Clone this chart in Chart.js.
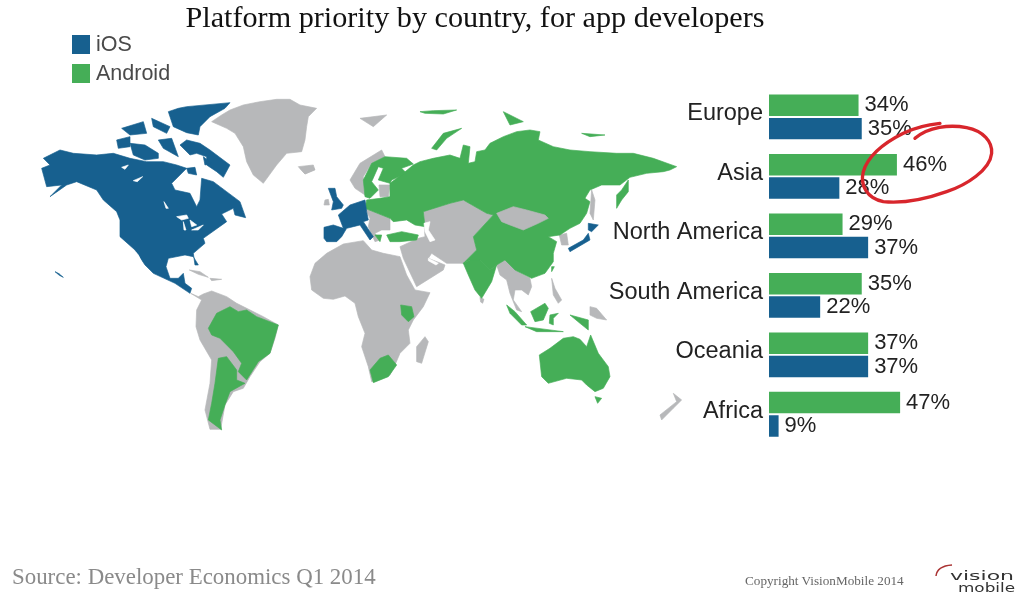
<!DOCTYPE html>
<html lang="en">
<head>
    <meta charset="UTF-8">
    <title>Platform priority by country, for app developers</title>
    <script src="https://cdn.jsdelivr.net/npm/chart.js"></script>
    <style>
        html, body { margin: 0; padding: 0; background: #fff; overflow: hidden; }
        #stage { position: relative; width: 1027px; height: 603px; }
        #stage > * { position: absolute; left: 0; top: 0; }
        #legend { left: 72px; top: 30px; font: 21.5px "Liberation Sans", Arial, sans-serif; color: #4a4a4a; }
        .legend-row { display: flex; align-items: center; height: 29px; }
        .legend-box { width: 18px; height: 19px; margin-right: 6px; }
        .source { left: 12px !important; top: 564px !important; font: 22.9px "Liberation Serif", serif; color: #8a8a8a; white-space: nowrap; }
        .copyright { left: 745px !important; top: 573px !important; font: 13.2px "Liberation Serif", serif; color: #666; white-space: nowrap; }
    </style>
</head>
<body>
<div id="stage">
    <!-- world map, traced by hand -->
    <svg width="1027" height="603" id="map">
        <g transform="translate(30 90) scale(0.3333)" stroke-linejoin="round" stroke-width="2">
            <g fill="#b7b8ba" stroke="#b7b8ba">
                <polygon points="545,95 575,75 600,60 640,45 690,35 740,28 780,28 810,45 860,55 835,80 830,110 825,150 815,185 770,190 740,225 700,280 670,255 650,215 640,170 615,130 590,115"/>
                <polygon points="805,230 850,225 855,240 825,252"/>
                <polygon points="478,540 510,545 535,562 505,553"/>
                <polygon points="540,565 575,568 545,572"/>
                <polygon points="482,610 505,620 520,612 545,603 590,620 620,640 650,655 700,680 745,705 735,745 720,790 690,815 660,860 640,895 610,905 585,945 572,1018 540,1018 525,960 540,880 545,810 510,750 498,710 500,660 515,630"/>
            </g>
            <g fill="#17608f" stroke="#17608f">
                <polygon points="40,205 90,180 130,190 200,195 250,190 300,205 350,215 400,215 440,225 470,235 450,255 425,280 435,300 480,310 500,350 510,330 515,265 550,275 590,305 630,335 647,383 615,375 610,355 575,372 590,395 520,445 525,460 490,490 495,525 505,525 490,500 465,495 415,505 408,530 420,565 445,565 460,550 465,580 485,595 480,610 435,580 370,550 345,525 315,480 270,440 270,390 260,365 220,330 200,300 140,275 110,285 60,320 95,285 50,290 35,235 60,225"/>
                <polygon points="415,65 445,55 470,50 600,38 585,55 540,80 510,110 505,135 470,128 430,110"/>
                <polygon points="450,165 470,150 510,160 540,180 600,225 580,262 560,245 530,225 530,200 500,190 480,195"/>
                <polygon points="300,160 345,165 385,190 385,205 345,210 310,195"/>
                <polygon points="260,150 300,140 300,170 265,175"/>
                <polygon points="275,115 340,95 350,130 300,135"/>
                <polygon points="365,85 420,110 410,130 370,110"/>
                <polygon points="385,150 425,145 445,200 400,175"/>
                <polygon points="470,235 495,232 500,255 475,250"/>
                <polygon points="520,200 545,220 525,225"/>
                <polygon points="75,545 85,550 100,562 88,556"/>
            </g>
            <g fill="#fff" stroke="#fff">
                <polygon points="316,485 325,495 345,538 338,533"/>
                <polygon points="275,232 295,225 285,238"/>
                <polygon points="310,272 338,260 322,275"/>
                <polygon points="402,335 415,355 408,355"/>
                <polygon points="440,380 470,375 475,385 455,390"/>
                <polygon points="460,395 468,420 462,420"/>
                <polygon points="480,390 500,405 485,410"/>
                <polygon points="485,420 520,405 505,420"/>
            </g>
            <g fill="#45ae57" stroke="#45ae57">
                <polygon points="535,715 560,670 600,650 625,665 650,660 680,680 745,705 735,740 720,790 685,815 650,870 625,845 635,820 610,785 570,745 545,735"/>
                <polygon points="565,805 590,800 620,840 620,870 645,880 600,905 585,945 570,990 575,1020 535,990 545,940 555,880"/>
            </g>
        </g>
        <g transform="translate(300 90) scale(0.3333)" stroke-linejoin="round" stroke-width="2">
            <g fill="#b7b8ba" stroke="#b7b8ba">
                <polygon points="30,560 45,520 80,490 130,462 190,452 215,480 250,490 300,500 320,555 345,600 390,608 370,650 340,690 325,720 330,760 300,790 285,825 270,855 215,875 205,830 185,770 195,730 175,680 165,640 135,618 100,628 70,625 35,600"/>
                <polygon points="375,740 385,755 365,820 350,815 350,770"/>
                <polygon points="355,445 300,470 310,505 350,590 430,540 435,525 385,505 395,490 440,520 490,520 530,480 520,440 580,375 560,370 490,330 450,340 370,365 375,440"/>
                <polygon points="590,525 615,510 645,540 690,565 695,590 685,615 665,600 645,600 640,630 665,665 650,660 630,610 620,570 600,555"/>
                <polygon points="195,355 270,385 270,420 245,420 225,430 240,450 225,455 205,410 210,385"/>
                <polygon points="150,270 180,220 245,180 255,200 215,220 190,260 195,315 165,295"/>
                <polygon points="237,285 270,285 265,320 240,320"/>
                <polygon points="180,85 260,75 220,110"/>
                <polygon points="75,330 85,328 88,345 72,345"/>
                <polygon points="0,235 30,228 45,238 15,252"/>
                <polygon points="875,300 885,330 880,390 870,370"/>
                <polygon points="778,435 800,430 805,465 785,465"/>
                <polygon points="755,565 765,595 785,630 775,640 760,615"/>
                <polygon points="870,650 890,655 920,690 890,685 870,675"/>
                <polygon points="1120,910 1145,930 1120,955 1085,990 1080,975 1130,935"/>
                <polygon points="540,622 552,628 548,640 542,636"/>
            </g>
            <g fill="#45ae57" stroke="#45ae57">
                <polygon points="200,330 240,325 270,320 270,280 310,250 340,225 360,215 400,205 450,195 480,205 490,165 510,170 505,220 525,215 530,185 555,180 570,160 610,140 650,125 690,120 720,125 715,150 760,170 810,180 870,185 950,190 1000,190 1060,205 1130,230 1110,240 1090,245 1040,250 990,262 960,285 905,285 870,300 855,325 870,335 860,370 840,400 810,415 780,435 745,440 770,455 760,490 760,515 735,550 695,565 645,540 615,510 590,525 570,540 540,510 510,510 490,520 530,480 520,440 580,375 560,370 490,330 450,340 370,365 375,410 345,405 320,390 280,395 270,385 195,355"/>
                <polygon points="490,520 510,510 540,510 570,540 590,525 575,575 545,625 525,600 505,555"/>
                <polygon points="195,320 190,270 215,220 255,200 320,205 340,222 305,235 320,250 275,270 270,280 235,270 250,235 235,230 215,275 235,300 210,325"/>
                <polygon points="260,435 305,425 355,435 350,450 300,455 270,455"/>
                <polygon points="225,435 245,435 240,455"/>
                <polygon points="302,645 335,650 342,680 325,695 305,675"/>
                <polygon points="210,840 240,805 265,795 290,825 265,860 220,878"/>
                <polygon points="395,175 430,130 485,115 440,145 410,180"/>
                <polygon points="360,65 400,62 470,60 430,72 375,70"/>
                <polygon points="610,65 670,95 630,105"/>
                <polygon points="845,130 915,135 870,140"/>
                <polygon points="950,315 965,300 985,270 985,305 965,330 950,355"/>
                <polygon points="755,530 763,530 755,545"/>
                <polygon points="620,645 645,665 680,705 665,705 630,670"/>
                <polygon points="675,710 790,725 710,725"/>
                <polygon points="692,665 735,640 745,655 730,690 705,695"/>
                <polygon points="750,675 775,670 760,685 760,705 748,700"/>
                <polygon points="810,675 865,690 865,720 840,700"/>
                <polygon points="718,795 750,775 790,745 820,740 840,748 860,770 872,735 895,790 925,830 930,860 910,895 885,905 860,885 845,870 800,865 745,880 725,860"/>
                <polygon points="885,920 905,925 893,940"/>
            </g>
            <g fill="#b7b8ba" stroke="#b7b8ba">
                <polygon points="590,370 640,350 680,360 735,375 745,385 715,400 670,420 630,405 605,395"/>
            </g>
            <g fill="#fff" stroke="#fff">
                <polygon points="372,400 390,395 385,420 405,450 390,455 375,425"/>
                <polygon points="385,505 415,520 408,525 385,512"/>
            </g>
            <g fill="#17608f" stroke="#17608f">
                <polygon points="85,295 105,295 110,320 130,345 125,355 95,360 100,335"/>
                <polygon points="72,412 100,405 130,415 115,375 150,345 195,330 200,365 205,390 190,395 220,440 210,450 180,405 160,410 140,415 125,440 110,455 80,455 72,445"/>
                <polygon points="865,400 895,405 875,425 865,420"/>
                <polygon points="865,430 870,450 810,485 805,475 850,450"/>
            </g>
        </g>
    </svg>
    <canvas id="chart" width="1027" height="603"></canvas>
    <!-- red pen circle over the Asia row -->
    <svg width="1027" height="603" id="pen" style="pointer-events:none">
        <path transform="translate(600 85) scale(0.3333)" fill="none" stroke="#d8262c" stroke-width="10" stroke-linecap="round"
              d="M945 160 C985 125 1050 118 1100 128 C1150 138 1178 170 1175 205 C1170 255 1100 300 1040 320 C970 345 900 355 850 350 C800 340 780 300 790 260 C805 210 860 170 910 145 C950 125 990 118 1020 115"/>
        <path d="M936 576 Q937 566 952 565" fill="none" stroke="#a33" stroke-width="1.5"/>
        <text x="950" y="580" font-family="DejaVu Sans" font-size="13" fill="#333" textLength="64" lengthAdjust="spacingAndGlyphs">vision</text>
        <text x="958" y="592" font-family="DejaVu Sans" font-size="13" fill="#333" textLength="57" lengthAdjust="spacingAndGlyphs">mobile</text>
    </svg>
    <div id="legend"></div>
    <div class="source">Source: Developer Economics Q1 2014</div>
    <div class="copyright">Copyright VisionMobile 2014</div>
</div>

<script>
    const categories = ["Europe", "Asia", "North America", "South America", "Oceania", "Africa"];
    const androidValues = [34, 46, 29, 35, 37, 47];
    const iosValues = [35, 28, 37, 22, 37, 9];
    const androidColor = "#45ae57";
    const iosColor = "#17608f";

    // legend lists iOS first, bars have Android on top
    document.getElementById("legend").innerHTML =
        [["iOS", iosColor], ["Android", androidColor]].map(s =>
            '<div class="legend-row"><span class="legend-box" style="background:' + s[1] + '"></span>' + s[0] + '</div>'
        ).join("");

    const valueLabels = {
        id: "valueLabels",
        afterDatasetsDraw(chart) {
            const ctx = chart.ctx;
            ctx.save();
            ctx.font = '22px "Liberation Sans", Arial, sans-serif';
            ctx.fillStyle = "#222";
            ctx.textBaseline = "middle";
            chart.data.datasets.forEach((ds, i) => {
                chart.getDatasetMeta(i).data.forEach((bar, j) => {
                    ctx.fillText(ds.data[j] + "%", bar.x + 6, bar.y);
                });
            });
            ctx.restore();
        }
    };

    new Chart(document.getElementById("chart").getContext("2d"), {
        type: "bar",
        data: {
            labels: categories,
            datasets: [
                { label: "Android", data: androidValues, backgroundColor: androidColor },
                { label: "iOS", data: iosValues, backgroundColor: iosColor }
            ]
        },
        options: {
            indexAxis: "y",
            responsive: false,
            animation: false,
            categoryPercentage: 0.785,
            barPercentage: 0.92,
            layout: { padding: { left: 0, right: 77, top: 0, bottom: 159 } },
            scales: {
                // the bars in the picture start from about 6, not from zero
                x: { display: false, min: 6, max: 62.6 },
                y: {
                    grid: { display: false, drawTicks: false },
                    border: { display: false },
                    ticks: {
                        padding: 6,
                        labelOffset: -3,
                        color: "#222",
                        font: { family: '"Liberation Sans", Arial, sans-serif', size: 23.5 }
                    },
                    afterFit(scale) { scale.width = 769; }
                }
            },
            plugins: {
                legend: { display: false },
                tooltip: { enabled: false },
                title: {
                    display: true,
                    text: "Platform priority by country, for app developers",
                    color: "#111",
                    font: { family: '"Liberation Serif", serif', size: 30.2, weight: "normal" },
                    padding: { top: 1, bottom: 50 }
                }
            }
        },
        plugins: [valueLabels]
    });
</script>
</body>
</html>
